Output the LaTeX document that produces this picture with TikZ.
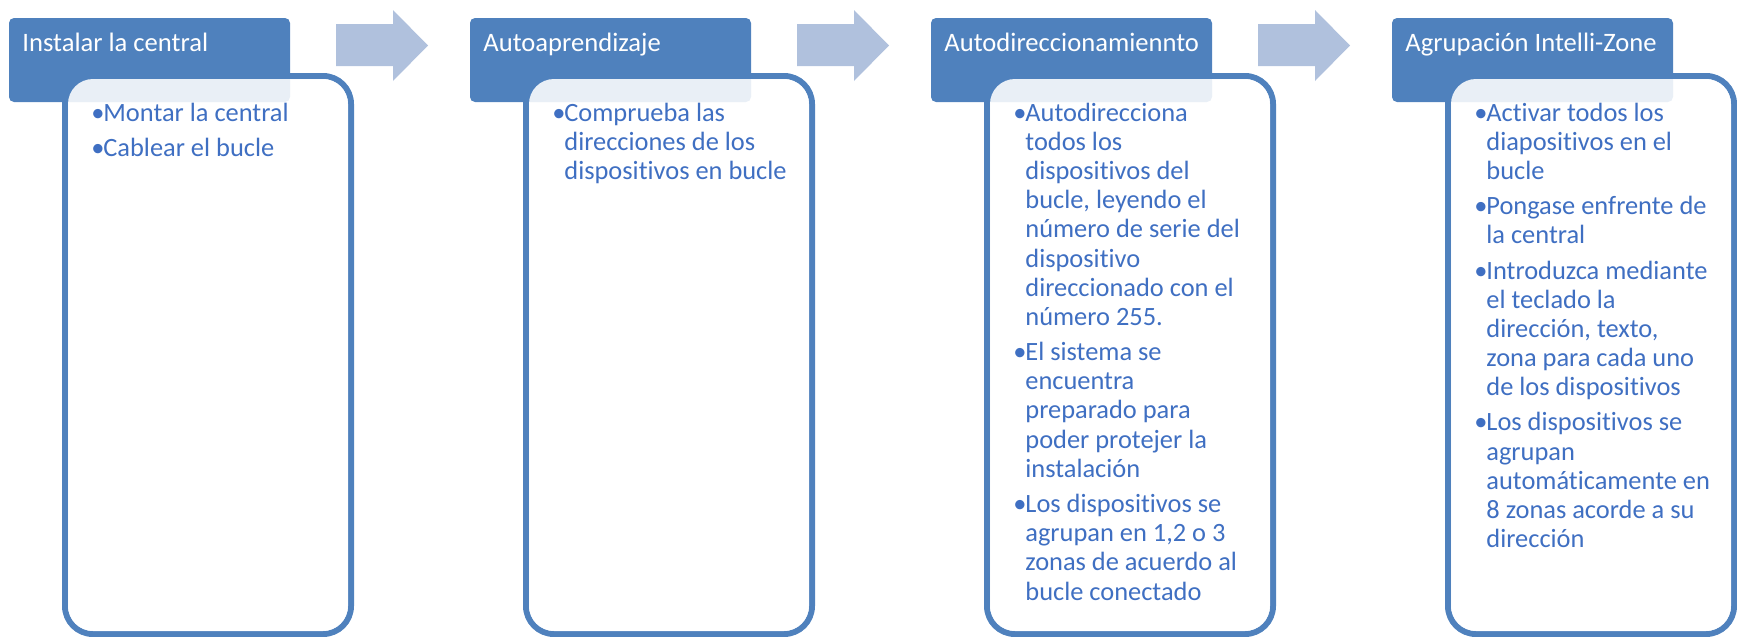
\documentclass[tikz,border=0pt]{standalone}
\usepackage{fontspec}
\setmainfont{Carlito}[Ligatures=NoCommon]
\definecolor{hdr}{HTML}{4F81BD}
\definecolor{arr}{HTML}{B0C1DD}
\definecolor{txt}{HTML}{3F6FC2}
\newcommand{\bl}{\makebox[6pt][l]{•}}
\newcommand{\ct}{\hspace*{6pt}}
\tikzset{
  header/.style={fill=hdr, rounded corners=2.5pt},
  boxline/.style={draw=hdr, line width=3pt, rounded corners=14pt},
  boxfill/.style={fill=white, fill opacity=0.88, rounded corners=12.5pt},
  title/.style={anchor=base west, inner sep=0pt, text=white, font=\fontsize{13.3}{15}\selectfont},
  body/.style={anchor=base west, inner sep=0pt, text=txt, font=\fontsize{13.2}{14.6}\selectfont},
  blockarrow/.style={fill=arr},
}
\begin{document}
\begin{tikzpicture}[x=0.5pt,y=-0.5pt]
\useasboundingbox (0,0) rectangle (1737,637);
% panel 1
\begin{scope}[xshift=4.5pt]
  \draw[boxline] (56,76) rectangle (342,634);
  \fill[header] (0,18) rectangle (281,102);
  \fill[boxfill] (59,79) rectangle (339,631);
  \node[title] (t1) at (13,52) {Instalar la central};
  \node[body] (b1) at (82,121) {\begin{tabular}[t]{@{}l@{}}
    \bl Montar la central\\[3pt]
    \bl Cablear el bucle
  \end{tabular}};
  \fill[blockarrow] (327,24) -- (384,24) -- (384,10) -- (419,45.5) -- (384,81) -- (384,66) -- (327,66) -- cycle;
\end{scope}
% panel 2
\begin{scope}[xshift=235pt]
  \draw[boxline] (56,76) rectangle (342,634);
  \fill[header] (0,18) rectangle (281,102);
  \fill[boxfill] (59,79) rectangle (339,631);
  \node[title] (t2) at (13,52) {Autoaprendizaje};
  \node[body] (b2) at (82,121) {\begin{tabular}[t]{@{}l@{}}
    \bl Comprueba las\\
    \ct direcciones de los\\
    \ct dispositivos en bucle
  \end{tabular}};
  \fill[blockarrow] (327,24) -- (384,24) -- (384,10) -- (419,45.5) -- (384,81) -- (384,66) -- (327,66) -- cycle;
\end{scope}
% panel 3
\begin{scope}[xshift=465.5pt]
  \draw[boxline] (56,76) rectangle (342,634);
  \fill[header] (0,18) rectangle (281,102);
  \fill[boxfill] (59,79) rectangle (339,631);
  \node[title] (t3) at (13,52) {Autodireccionamiennto};
  \node[body] (b3) at (82,121) {\begin{tabular}[t]{@{}l@{}}
    \bl Autodirecciona\\
    \ct todos los\\
    \ct dispositivos del\\
    \ct bucle, leyendo el\\
    \ct número de serie del\\
    \ct dispositivo\\
    \ct direccionado con el\\
    \ct número 255.\\[3pt]
    \bl El sistema se\\
    \ct encuentra\\
    \ct preparado para\\
    \ct poder protejer la\\
    \ct instalación\\[3pt]
    \bl Los dispositivos se\\
    \ct agrupan en 1,2 o 3\\
    \ct zonas de acuerdo al\\
    \ct bucle conectado
  \end{tabular}};
  \fill[blockarrow] (327,24) -- (384,24) -- (384,10) -- (419,45.5) -- (384,81) -- (384,66) -- (327,66) -- cycle;
\end{scope}
% panel 4
\begin{scope}[xshift=696pt]
  \draw[boxline] (56,76) rectangle (342,634);
  \fill[header] (0,18) rectangle (281,102);
  \fill[boxfill] (59,79) rectangle (339,631);
  \node[title] (t4) at (13,52) {Agrupación Intelli-Zone};
  \node[body] (b4) at (82,121) {\begin{tabular}[t]{@{}l@{}}
    \bl Activar todos los\\
    \ct diapositivos en el\\
    \ct bucle\\[3pt]
    \bl Pongase enfrente de\\
    \ct la central\\[3pt]
    \bl Introduzca mediante\\
    \ct el teclado la\\
    \ct dirección, texto,\\
    \ct zona para cada uno\\
    \ct de los dispositivos\\[3pt]
    \bl Los dispositivos se\\
    \ct agrupan\\
    \ct automáticamente en\\
    \ct 8 zonas acorde a su\\
    \ct dirección
  \end{tabular}};
\end{scope}
\end{tikzpicture}
\end{document}
